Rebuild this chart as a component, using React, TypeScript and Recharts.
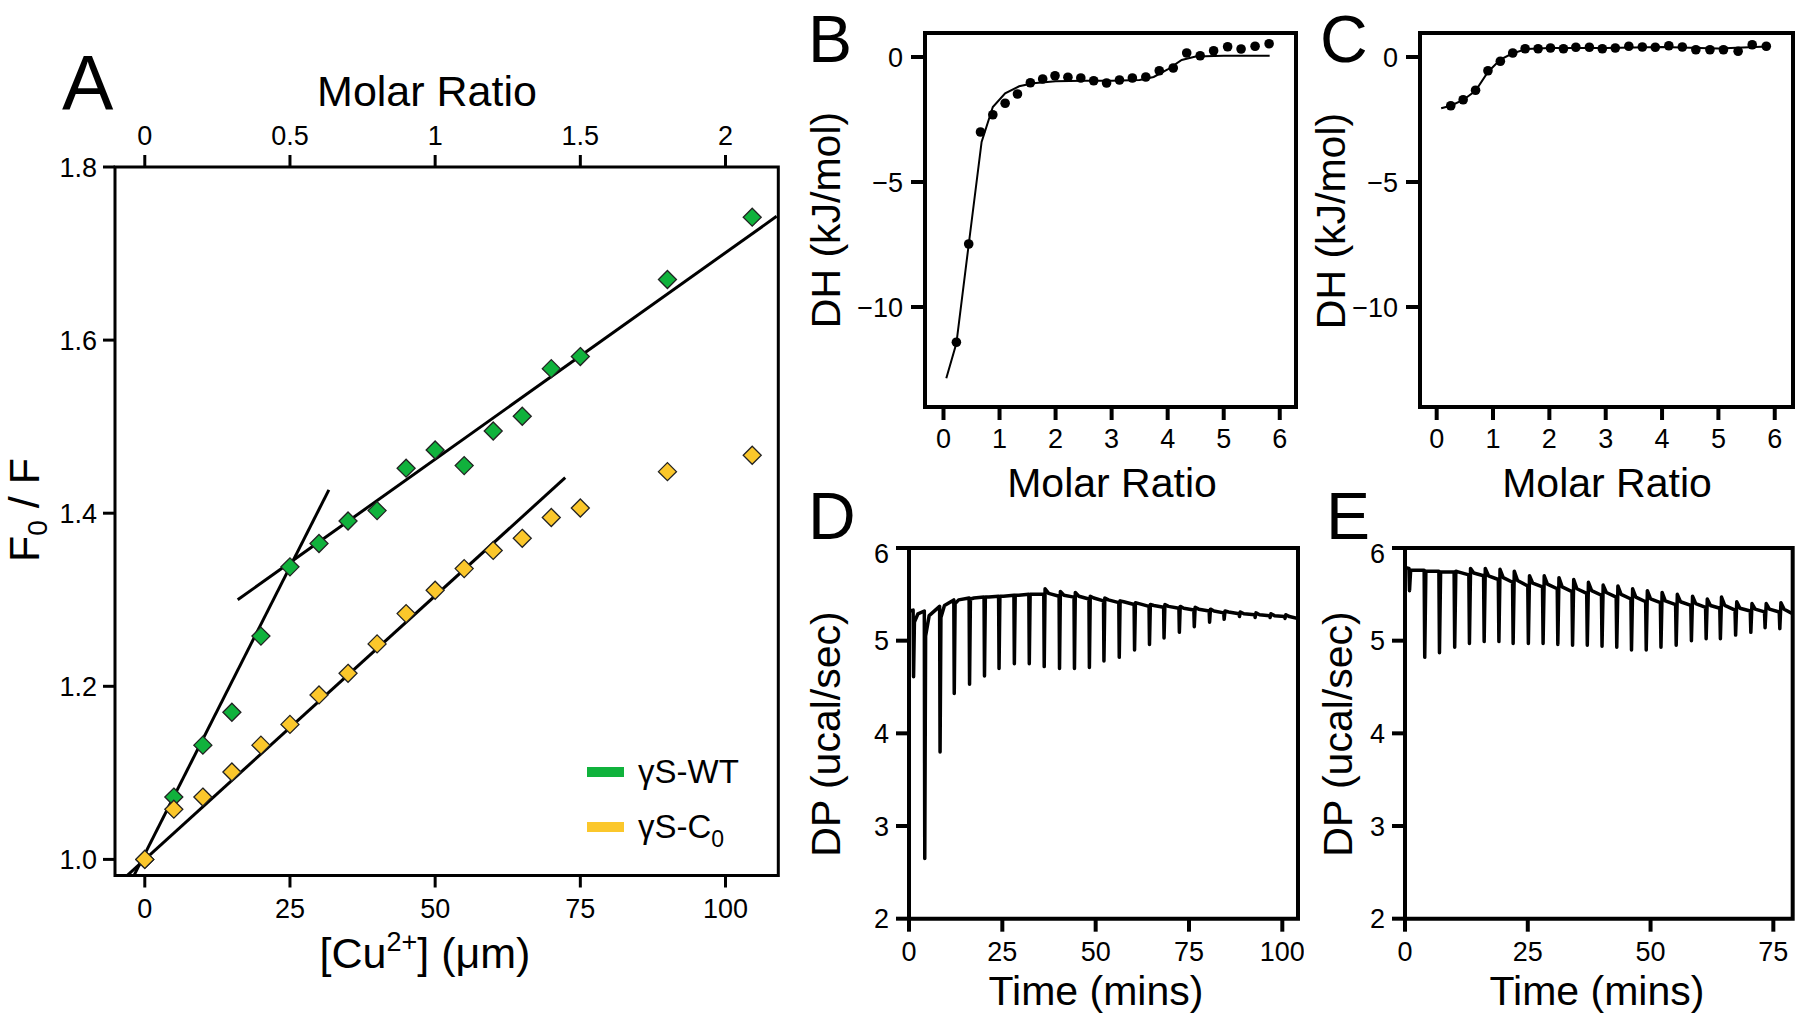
import React from "react";
import { ComposedChart, Scatter, Line, XAxis, YAxis, ReferenceArea } from "recharts";

// ---- Panel A: F0/F vs [Cu2+] ----
const cuWT = [0, 5, 10, 15, 20, 25, 30, 35, 40, 45, 50, 55, 60, 65, 70, 75, 90, 104.6];
const ratioWT = [1.0, 1.072, 1.132, 1.17, 1.258, 1.338, 1.365, 1.391, 1.403, 1.452, 1.473, 1.455, 1.495, 1.512, 1.567, 1.581, 1.67, 1.742];
const cuC0 = [0, 5, 10, 15, 20, 25, 30, 35, 40, 45, 50, 55, 60, 65, 70, 75, 90, 104.6];
const ratioC0 = [1.0, 1.058, 1.072, 1.101, 1.132, 1.156, 1.19, 1.215, 1.249, 1.284, 1.311, 1.336, 1.357, 1.371, 1.395, 1.406, 1.448, 1.467];
const steepFitX = [-1.9, 31.7];
const steepFitY = [0.981, 1.427];
const wtFitX = [16, 108.8];
const wtFitY = [1.3, 1.743];
const c0FitX = [-3.1, 72.4];
const c0FitY = [0.981, 1.441];
const cuTicks = [0, 25, 50, 75, 100];
const ratioTicks = [1.0, 1.2, 1.4, 1.6, 1.8];

// ---- Panel B: integrated heats, gammaS-WT ----
const bMolar = [0.23, 0.45, 0.66, 0.88, 1.1, 1.32, 1.55, 1.77, 1.99, 2.22, 2.45, 2.68, 2.91, 3.14, 3.37, 3.61, 3.85, 4.1, 4.34, 4.58, 4.82, 5.07, 5.31, 5.56, 5.81];
const bHeat = [-11.41, -7.48, -3.0, -2.31, -1.85, -1.48, -1.03, -0.88, -0.75, -0.81, -0.84, -0.95, -1.04, -0.92, -0.84, -0.8, -0.55, -0.44, 0.16, 0.05, 0.25, 0.41, 0.32, 0.43, 0.53];
const bFitX = [0.05, 0.23, 0.45, 0.68, 0.88, 1.1, 1.35, 1.6, 2.0, 2.5, 3.0, 3.5, 3.75, 4.0, 4.25, 4.5, 5.0, 5.82];
const bFitY = [-12.85, -11.45, -7.5, -3.4, -2.0, -1.45, -1.17, -1.05, -0.97, -0.95, -0.95, -0.92, -0.8, -0.5, -0.12, 0.02, 0.05, 0.05];

// ---- Panel C: integrated heats, gammaS-C0 ----
const cMolar = [0.25, 0.47, 0.69, 0.91, 1.13, 1.35, 1.57, 1.8, 2.02, 2.25, 2.47, 2.71, 2.94, 3.17, 3.41, 3.65, 3.88, 4.12, 4.36, 4.6, 4.85, 5.09, 5.35, 5.6, 5.85];
const cHeat = [-1.95, -1.71, -1.33, -0.55, -0.17, 0.16, 0.33, 0.33, 0.36, 0.33, 0.39, 0.39, 0.33, 0.36, 0.43, 0.4, 0.39, 0.45, 0.4, 0.29, 0.29, 0.29, 0.23, 0.49, 0.43];
const cFitX = [0.08, 0.25, 0.47, 0.69, 0.91, 1.13, 1.35, 1.6, 2.0, 3.0, 4.0, 5.0, 5.87];
const cFitY = [-2.05, -1.95, -1.72, -1.35, -0.6, -0.1, 0.15, 0.32, 0.36, 0.36, 0.4, 0.34, 0.42];
const molarTicks = [0, 1, 2, 3, 4, 5, 6];
const heatTicks = [-10, -5, 0];

// ---- Panel D: raw thermogram, gammaS-WT ----
const dTimes = [1.1, 4.1, 8.2, 12.0, 16.1, 20.1, 24.0, 28.1, 32.1, 36.1, 40.2, 44.2, 48.2, 52.1, 56.2, 60.3, 64.3, 68.2, 72.3, 76.3, 80.4, 84.3, 88.4, 92.6, 96.6, 100.6];
const dPre = [5.33, 5.32, 5.37, 5.44, 5.46, 5.47, 5.48, 5.49, 5.5, 5.5, 5.48, 5.47, 5.45, 5.43, 5.41, 5.39, 5.37, 5.36, 5.35, 5.33, 5.32, 5.3, 5.29, 5.28, 5.27, 5.26];
const dMin = [4.61, 2.65, 3.8, 4.43, 4.53, 4.62, 4.7, 4.75, 4.75, 4.72, 4.7, 4.7, 4.71, 4.78, 4.82, 4.9, 4.96, 5.03, 5.09, 5.15, 5.2, 5.23, 5.26, 5.25, 5.25, 5.24];
const dPeak = [5.2, 5.05, 5.25, 5.4, 5.45, 5.47, 5.48, 5.49, 5.5, 5.56, 5.53, 5.52, 5.48, 5.46, 5.43, 5.41, 5.39, 5.39, 5.37, 5.36, 5.34, 5.32, 5.31, 5.3, 5.29, 5.28];
const dMid = [5.29, 5.27, 5.38, 5.44, 5.46, 5.47, 5.48, 5.49, 5.5, 5.51, 5.49, 5.48, 5.46, 5.44, 5.42, 5.4, 5.38, 5.37, 5.35, 5.34, 5.32, 5.31, 5.29, 5.28, 5.27, 5.26];
const dStart = { x: 0, y: 5.32 };
const dEnd = { x: 104.2, y: 5.24 };
const dTimeTicks = [0, 25, 50, 75, 100];

// ---- Panel E: raw thermogram, gammaS-C0 ----
const eTimes = [0.8, 3.9, 6.9, 10.0, 13.0, 16.0, 19.0, 21.9, 25.0, 28.0, 31.0, 34.0, 37.0, 40.0, 43.0, 46.0, 49.0, 52.0, 55.1, 58.2, 61.2, 64.1, 67.2, 70.3, 73.2, 76.2];
const ePre = [5.78, 5.76, 5.75, 5.74, 5.71, 5.7, 5.66, 5.63, 5.59, 5.58, 5.56, 5.53, 5.51, 5.49, 5.47, 5.45, 5.42, 5.41, 5.39, 5.38, 5.36, 5.35, 5.33, 5.32, 5.31, 5.31];
const eMin = [5.54, 4.82, 4.87, 4.93, 4.97, 4.99, 4.99, 4.97, 4.97, 4.97, 4.96, 4.95, 4.95, 4.94, 4.93, 4.9, 4.9, 4.93, 4.95, 5.0, 5.02, 5.02, 5.06, 5.09, 5.14, 5.13];
const ePeak = [5.76, 5.75, 5.74, 5.75, 5.78, 5.78, 5.77, 5.75, 5.7, 5.7, 5.68, 5.66, 5.63, 5.6, 5.59, 5.56, 5.54, 5.52, 5.5, 5.48, 5.45, 5.47, 5.42, 5.4, 5.4, 5.41];
const eMid = [5.76, 5.75, 5.74, 5.74, 5.73, 5.7, 5.68, 5.65, 5.62, 5.61, 5.58, 5.56, 5.54, 5.52, 5.5, 5.47, 5.45, 5.43, 5.42, 5.4, 5.38, 5.38, 5.35, 5.34, 5.34, 5.34];
const eStart = { x: 0, y: 5.79 };
const eEnd = { x: 78.9, y: 5.29 };
const eTimeTicks = [0, 25, 50, 75];
const powerTicks = [2, 3, 4, 5, 6];

const GREEN = "#10b23c";
const YELLOW = "#fbc72b";
const SANS = "'Liberation Sans', Arial, sans-serif";

const zip = (xs: number[], ys: number[]) => xs.map((x, i) => ({ x, y: ys[i] }));

// one injection = baseline, sharp dip, return, partial settle
function thermogram(start: { x: number; y: number }, times: number[], pre: number[], min: number[], peak: number[], mid: number[], end: { x: number; y: number }, midAt: number) {
  const pts = [start];
  times.forEach((t, i) => {
    pts.push({ x: t, y: pre[i] });
    pts.push({ x: t + 0.12, y: min[i] });
    pts.push({ x: t + 0.35, y: peak[i] });
    pts.push({ x: t + midAt, y: mid[i] });
  });
  pts.push(end);
  return pts;
}

const minus = (v: number) => (v < 0 ? `\u2212${Math.abs(v)}` : String(v));

function Diamond(color: string) {
  return (props: any) => {
    const { cx, cy } = props;
    const s = 9;
    return (
      <polygon
        points={`${cx},${cy - s} ${cx + s},${cy} ${cx},${cy + s} ${cx - s},${cy}`}
        fill={color}
        stroke="#222"
        strokeWidth={1.3}
      />
    );
  };
}

function Dot(props: any) {
  return <circle cx={props.cx} cy={props.cy} r={4.8} fill="#000" />;
}

function PanelA() {
  const xDomain: [number, number] = [-5.13, 109.09];
  const tickStyle = { fill: "#000", fontSize: 27, fontFamily: SANS };
  const tickLine = { stroke: "#000", strokeWidth: 3 };
  return (
    <div style={{ position: "absolute", left: 0, top: 106.5 }}>
      <ComposedChart width={783.3} height={828.5} margin={{ top: 0, right: 5, bottom: 0, left: 0 }}>
        <XAxis xAxisId={0} type="number" dataKey="x" domain={xDomain} ticks={cuTicks} allowDataOverflow
          height={60} tickSize={12} tickMargin={11} axisLine={false} tickLine={tickLine} tick={tickStyle} />
        <XAxis xAxisId="top" orientation="top" type="number" dataKey="x" domain={xDomain} ticks={cuTicks} allowDataOverflow
          height={60} tickSize={12} tickMargin={10} axisLine={false} tickLine={tickLine} tick={tickStyle}
          tickFormatter={(v: number) => String(v / 50)} />
        <YAxis type="number" dataKey="y" domain={[0.9814, 1.8]} ticks={ratioTicks} allowDataOverflow width={115}
          tickSize={12} tickMargin={6} axisLine={false} tickLine={tickLine} tick={tickStyle}
          tickFormatter={(v: number) => v.toFixed(1)} />
        <ReferenceArea x1={xDomain[0]} x2={xDomain[1]} y1={0.9814} y2={1.8} fill="none" stroke="#000" strokeWidth={3} ifOverflow="visible" />
        <Line xAxisId="top" data={zip([0, 2], [1.5, 1.5])} dataKey="y" stroke="none" dot={false} isAnimationActive={false} />
        <Scatter data={zip(cuWT, ratioWT)} shape={Diamond(GREEN)} isAnimationActive={false} />
        <Scatter data={zip(cuC0, ratioC0)} shape={Diamond(YELLOW)} isAnimationActive={false} />
        <Line data={zip(steepFitX, steepFitY)} dataKey="y" stroke="#000" strokeWidth={3} dot={false} isAnimationActive={false} />
        <Line data={zip(wtFitX, wtFitY)} dataKey="y" stroke="#000" strokeWidth={3} dot={false} isAnimationActive={false} />
        <Line data={zip(c0FitX, c0FitY)} dataKey="y" stroke="#000" strokeWidth={3} dot={false} isAnimationActive={false} />
      </ComposedChart>
    </div>
  );
}

function HeatPanel({ left, plotW, xDomain, points, fit }: { left: number; plotW: number; xDomain: [number, number]; points: { x: number; y: number }[]; fit: { x: number; y: number }[] }) {
  const tickStyle = { fill: "#000", fontSize: 27, fontFamily: SANS };
  const tickLine = { stroke: "#000", strokeWidth: 4 };
  const yDomain: [number, number] = [-14, 0.96];
  return (
    <div style={{ position: "absolute", left: left - 80, top: 23 }}>
      <ComposedChart width={80 + plotW + 6} height={434} margin={{ top: 10, right: 6, bottom: 0, left: 0 }}>
        <XAxis type="number" dataKey="x" domain={xDomain} ticks={molarTicks} allowDataOverflow height={50}
          tickSize={13} tickMargin={9} axisLine={false} tickLine={tickLine} tick={tickStyle} />
        <YAxis type="number" dataKey="y" domain={yDomain} ticks={heatTicks} allowDataOverflow width={80}
          tickSize={14} tickMargin={8} axisLine={false} tickLine={tickLine} tick={tickStyle} tickFormatter={minus} />
        <ReferenceArea x1={xDomain[0]} x2={xDomain[1]} y1={yDomain[0]} y2={yDomain[1]} fill="none" stroke="#000" strokeWidth={4} ifOverflow="visible" />
        <Line data={fit} dataKey="y" stroke="#000" strokeWidth={2} dot={false} isAnimationActive={false} />
        <Scatter data={points} shape={Dot} isAnimationActive={false} />
      </ComposedChart>
    </div>
  );
}

function PowerPanel({ left, plotW, xDomain, ticks, trace }: { left: number; plotW: number; xDomain: [number, number]; ticks: number[]; trace: { x: number; y: number }[] }) {
  const tickStyle = { fill: "#000", fontSize: 27, fontFamily: SANS };
  const tickLine = { stroke: "#000", strokeWidth: 4 };
  return (
    <div style={{ position: "absolute", left: left - 70, top: 538.3 }}>
      <ComposedChart width={70 + plotW + 6} height={430.7} margin={{ top: 10, right: 6, bottom: 0, left: 0 }}>
        <XAxis type="number" dataKey="x" domain={xDomain} ticks={ticks} allowDataOverflow height={50}
          tickSize={13} tickMargin={10} axisLine={false} tickLine={tickLine} tick={tickStyle} />
        <YAxis type="number" dataKey="y" domain={[2, 6]} ticks={powerTicks} allowDataOverflow width={70}
          tickSize={13} tickMargin={7} axisLine={false} tickLine={tickLine} tick={tickStyle} />
        <ReferenceArea x1={xDomain[0]} x2={xDomain[1]} y1={2} y2={6} fill="none" stroke="#000" strokeWidth={4} ifOverflow="visible" />
        <Line data={trace} dataKey="y" stroke="#000" strokeWidth={3.5} strokeLinejoin="round" dot={false} isAnimationActive={false} />
      </ComposedChart>
    </div>
  );
}

function Labels() {
  const t = { fill: "#000" };
  return (
    <svg width={1800} height={1029} style={{ position: "absolute", left: 0, top: 0, pointerEvents: "none" }}>
      {/* panel A */}
      <text x={62} y={110} fontSize={77} fontFamily={SANS} {...t}>A</text>
      <text x={427} y={106} fontSize={43} fontFamily={SANS} textAnchor="middle" {...t}>Molar Ratio</text>
      <text transform="translate(39,510) rotate(-90)" fontSize={43} fontFamily={SANS} textAnchor="middle" {...t}>
        F<tspan fontSize={28} dy={8}>0</tspan><tspan dy={-8}> / F</tspan>
      </text>
      <text x={425} y={968} fontSize={43} fontFamily={SANS} textAnchor="middle" {...t}>
        [Cu<tspan fontSize={27} dy={-17}>2+</tspan><tspan dy={17}>] (μm)</tspan>
      </text>
      <rect x={587} y={767} width={37} height={10} fill={GREEN} />
      <text x={638} y={783} fontSize={33} fontFamily={SANS} {...t}>γS-WT</text>
      <rect x={587} y={822} width={37} height={10} fill={YELLOW} />
      <text x={638} y={838} fontSize={33} fontFamily={SANS} {...t}>
        γS-C<tspan fontSize={23} dy={9}>0</tspan>
      </text>

      {/* panel letters */}
      <text x={808} y={62} fontSize={66} fontFamily={SANS} {...t}>B</text>
      <text x={1320} y={62} fontSize={66} fontFamily={SANS} {...t}>C</text>
      <text x={808} y={539} fontSize={66} fontFamily={SANS} {...t}>D</text>
      <text x={1326} y={539} fontSize={66} fontFamily={SANS} {...t}>E</text>

      {/* axis titles B-E */}
      <text transform="translate(840,220) rotate(-90)" fontSize={41} fontFamily={SANS} textAnchor="middle" {...t}>DH (kJ/mol)</text>
      <text x={1112} y={497} fontSize={41} fontFamily={SANS} textAnchor="middle" {...t}>Molar Ratio</text>
      <text transform="translate(1345,221) rotate(-90)" fontSize={41} fontFamily={SANS} textAnchor="middle" {...t}>DH (kJ/mol)</text>
      <text x={1607} y={497} fontSize={41} fontFamily={SANS} textAnchor="middle" {...t}>Molar Ratio</text>
      <text transform="translate(840,734) rotate(-90)" fontSize={41} fontFamily={SANS} textAnchor="middle" {...t}>DP (ucal/sec)</text>
      <text x={1096} y={1005} fontSize={41} fontFamily={SANS} textAnchor="middle" {...t}>Time (mins)</text>
      <text transform="translate(1352,734) rotate(-90)" fontSize={41} fontFamily={SANS} textAnchor="middle" {...t}>DP (ucal/sec)</text>
      <text x={1597} y={1005} fontSize={41} fontFamily={SANS} textAnchor="middle" {...t}>Time (mins)</text>
    </svg>
  );
}

export default function App() {
  const dTrace = thermogram(dStart, dTimes, dPre, dMin, dPeak, dMid, dEnd, 1.3);
  const eTrace = thermogram(eStart, eTimes, ePre, eMin, ePeak, eMid, eEnd, 1.0);
  return (
    <div style={{ position: "absolute", left: 0, top: 0, width: 1800, height: 1029, background: "#fff", overflow: "hidden" }}>
      <PanelA />
      <HeatPanel left={925} plotW={371} xDomain={[-0.33, 6.29]} points={zip(bMolar, bHeat)} fit={zip(bFitX, bFitY)} />
      <HeatPanel left={1420} plotW={373} xDomain={[-0.296, 6.324]} points={zip(cMolar, cHeat)} fit={zip(cFitX, cFitY)} />
      <PowerPanel left={909.3} plotW={389} xDomain={[0, 104.2]} ticks={dTimeTicks} trace={dTrace} />
      <PowerPanel left={1405} plotW={387.7} xDomain={[0, 78.94]} ticks={eTimeTicks} trace={eTrace} />
      <Labels />
    </div>
  );
}
